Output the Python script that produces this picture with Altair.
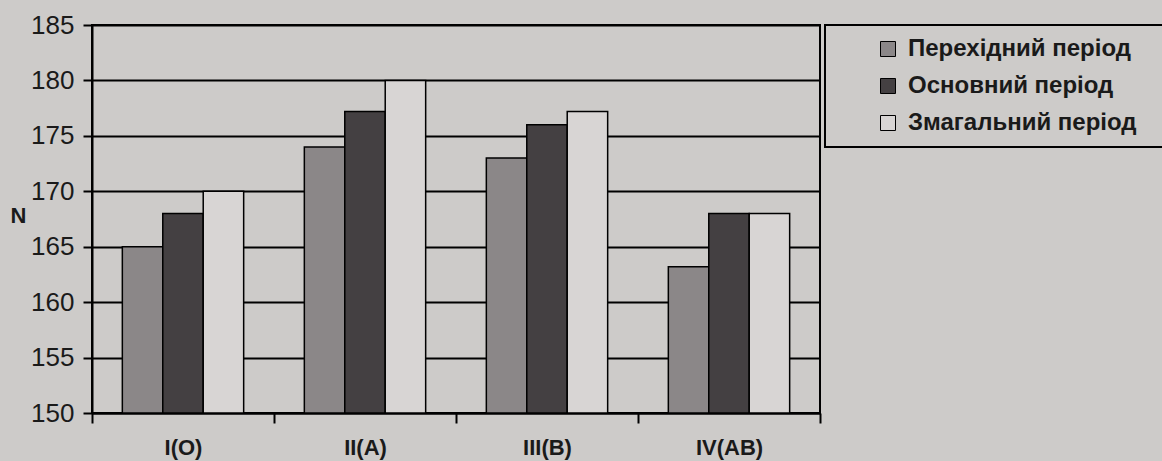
import altair as alt
import pandas as pd

categories = ["I(O)", "II(A)", "III(B)", "IV(AB)"]
series = ["Перехідний період", "Основний період", "Змагальний період"]
perekhidnyi = [165, 174, 173, 163.2]
osnovnyi = [168, 177.2, 176, 168]
zmahalnyi = [170, 180, 177.2, 168]
colors = ["#8b8788", "#444042", "#d8d5d4"]

rows = []
for vals, s in zip([perekhidnyi, osnovnyi, zmahalnyi], series):
    for c, v in zip(categories, vals):
        rows.append({"group": c, "series": s, "value": v})
df = pd.DataFrame(rows)

FONT = "Liberation Sans"
pad = "\u2002\u2009\u200b"

chart = alt.Chart(df).mark_bar(stroke="black", strokeWidth=1.5).encode(
    x=alt.X("group:N", sort=categories,
            scale=alt.Scale(paddingInner=0, paddingOuter=0),
            axis=alt.Axis(title=None, labelAngle=0, labelFontSize=22, labelFontWeight="bold",
                          labelColor="#1a1a1a", labelFont=FONT, tickBand="extent",
                          tickSize=10, tickColor="black", tickWidth=2,
                          domainColor="black", domainWidth=2, labelPadding=14, grid=False)),
    xOffset=alt.XOffset("series:N", sort=series,
                        scale=alt.Scale(paddingInner=0, paddingOuter=0.75)),
    y=alt.Y("value:Q", scale=alt.Scale(domain=[150, 185], nice=False, zero=False),
            axis=alt.Axis(values=[150, 155, 160, 165, 170, 175, 180, 185],
                          title="N", titleAngle=0, titleX=-74, titleY=190,
                          titleAlign="center", titleBaseline="middle",
                          titleFontSize=22, titleFontWeight="bold", titleFont=FONT,
                          titleColor="#1a1a1a",
                          labelFontSize=26, labelFont=FONT, labelColor="#1a1a1a",
                          labelPadding=9, tickSize=9, tickColor="black", tickWidth=2,
                          domainColor="black", domainWidth=2,
                          grid=True, gridColor="black", gridWidth=2, gridOpacity=1)),
    y2=alt.datum(150),
    color=alt.Color("series:N", sort=series,
                    scale=alt.Scale(domain=series, range=colors),
                    legend=alt.Legend(title=" ", titleOrient="left", titlePadding=39,
                                      titleFontSize=21,
                                      orient="none", legendX=733, legendY=0,
                                      symbolType="square", symbolSize=225,
                                      symbolStrokeColor="black", symbolStrokeWidth=1,
                                      symbolOpacity=1,
                                      labelFontSize=24, labelFontWeight="bold",
                                      labelFont=FONT, labelColor="#1a1a1a",
                                      labelOffset=8, rowPadding=13,
                                      padding=12, strokeColor="black",
                                      labelLimit=600,
                                      labelExpr="datum.label + '" + pad + "'")),
).properties(
    width=728, height=388,
    padding={"left": 92, "top": 25, "right": 342, "bottom": 48},
    autosize=alt.AutoSizeParams(type="none"),
    background="#cdcbc9",
).configure_view(stroke="black", strokeWidth=2).configure_legend(strokeWidth=2)

chart.save("out.html", embed_options={"renderer": "svg", "actions": False})
